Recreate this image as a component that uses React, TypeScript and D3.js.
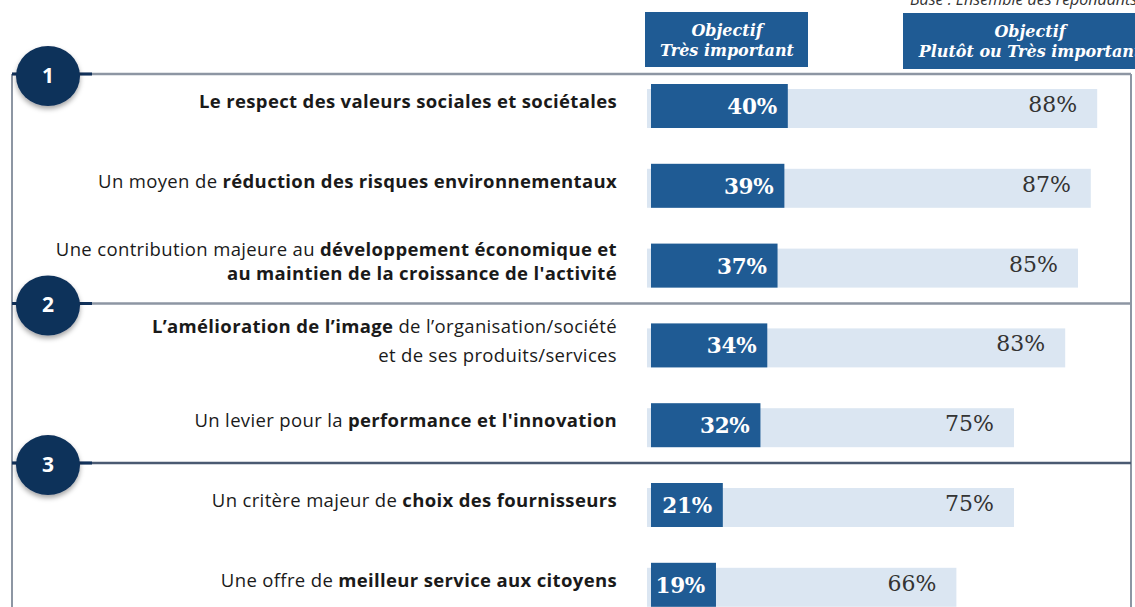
import React from "react";
import * as d3 from "d3";

type Seg = [string, boolean];

const categories: Seg[][][] = [
  [[["Le respect des valeurs sociales et sociétales", true]]],
  [[["Un moyen de ", false], ["réduction des risques environnementaux", true]]],
  [
    [["Une contribution majeure au ", false], ["développement économique et", true]],
    [["au maintien de la croissance de l'activité", true]],
  ],
  [
    [["L’amélioration de l’image", true], [" de l’organisation/société", false]],
    [["et de ses produits/services", false]],
  ],
  [[["Un levier pour la ", false], ["performance et l'innovation", true]]],
  [[["Un critère majeur de ", false], ["choix des fournisseurs", true]]],
  [[["Une offre de ", false], ["meilleur service aux citoyens", true]]],
];

const veryImportant = [40, 39, 37, 34, 32, 21, 19];
const ratherOrVery = [88, 87, 85, 83, 75, 75, 66];

const sectionStartRows = [0, 3, 5];
const sectionNumbers = ["1", "2", "3"];

const headerVery = ["Objectif", "Très important"];
const headerRather = ["Objectif", "Plutôt ou Très important"];
const baseNote = "Base : Ensemble des répondants";

const W = 1135;
const H = 607;
const DARK = "#1f5b94";
const LIGHT = "#dbe6f2";
const NAVY = "#11315a";
const LINE = "#8d96a3";

export default function App() {
  const rows = d3.range(categories.length);
  const y = d3
    .scaleBand<number>()
    .domain(rows)
    .range([84, 84 + 79.8 * categories.length])
    .paddingInner(0);
  const xDark = d3.scaleLinear().domain([0, 100]).range([651, 651 + 342]);
  const xLight = d3.scaleLinear().domain([0, 100]).range([534, 1174]);
  const lightX0 = 647;
  const darkH = 44;
  const lightOff = 5;
  const lightH = 39;

  const sectionY = sectionStartRows.map((r) =>
    r === 0 ? (y(0) as number) - 10 : ((y(r) as number) + (y(r - 1) as number) + darkH) / 2 - 2
  );

  const labelFont = "'Open Sans', 'Noto Sans', sans-serif";
  const serif = "'DejaVu Serif', 'Liberation Serif', serif";

  return (
    <svg
      width={W}
      height={H}
      viewBox={`0 0 ${W} ${H}`}
      style={{ position: "absolute", left: 0, top: 0, background: "#fff" }}
    >
      <defs>
        <filter id="shadow" x="-30%" y="-30%" width="160%" height="170%">
          <feDropShadow dx="0" dy="3" stdDeviation="2.5" floodColor="#000" floodOpacity="0.35" />
        </filter>
      </defs>

      {/* base note (cut off at top, as in the source) */}
      <text
        x={910}
        y={5}
        fontFamily={labelFont}
        fontStyle="italic"
        fontSize={16}
        fill="#333"
      >
        {baseNote}
      </text>

      {/* headers */}
      <g>
        <rect x={645} y={12} width={163} height={55} fill={DARK} />
        {headerVery.map((t, i) => (
          <text
            key={i}
            x={727}
            y={31 + i * 20}
            textAnchor="middle"
            dominantBaseline="middle"
            fill="#fff"
            fontFamily={serif}
            fontWeight="bold"
            fontStyle="italic"
            fontSize={16}
          >
            {t}
          </text>
        ))}
        <rect x={903} y={13} width={240} height={56} fill={DARK} />
        {headerRather.map((t, i) => (
          <text
            key={i}
            x={1030}
            y={32 + i * 20}
            textAnchor="middle"
            dominantBaseline="middle"
            fill="#fff"
            fontFamily={serif}
            fontWeight="bold"
            fontStyle="italic"
            fontSize={16}
          >
            {t}
          </text>
        ))}
      </g>

      {/* frame */}
      <line x1={12} x2={12} y1={sectionY[0]} y2={H} stroke={LINE} strokeWidth={2} />
      <line x1={1131} x2={1131} y1={sectionY[0]} y2={H} stroke={LINE} strokeWidth={2} />
      {sectionY.map((sy, i) => (
        <g key={i}>
          <line x1={12} x2={1131} y1={sy} y2={sy} stroke={i === 2 ? "#4a5a72" : LINE} strokeWidth={2.5} />
          <line x1={12} x2={92} y1={sy} y2={sy} stroke={NAVY} strokeWidth={3} />
          <ellipse
            cx={48}
            cy={sy + 2}
            rx={32}
            ry={30}
            fill={NAVY}
            filter="url(#shadow)"
          />
          <text
            x={48}
            y={sy + 3}
            textAnchor="middle"
            dominantBaseline="middle"
            fill="#fff"
            fontFamily={labelFont}
            fontWeight="bold"
            fontSize={21}
          >
            {sectionNumbers[i]}
          </text>
        </g>
      ))}

      {/* bars */}
      {rows.map((i) => {
        const top = y(i) as number;
        const cy = top + darkH / 2;
        const lines = categories[i];
        const lineGap = i === 3 ? 29 : 24;
        return (
          <g key={i}>
            <rect
              x={lightX0}
              y={top + lightOff}
              width={xLight(ratherOrVery[i]) - lightX0}
              height={lightH}
              fill={LIGHT}
            />
            <rect
              x={xDark(0)}
              y={top}
              width={xDark(veryImportant[i]) - xDark(0)}
              height={darkH}
              fill={DARK}
            />
            <text
              x={xDark(veryImportant[i]) - 11}
              y={cy + 2}
              textAnchor="end"
              dominantBaseline="middle"
              fill="#fff"
              fontFamily={serif}
              fontWeight="bold"
              fontSize={21.5}
              letterSpacing={-0.3}
            >
              {veryImportant[i]}%
            </text>
            <text
              x={xLight(ratherOrVery[i]) - 20}
              y={cy}
              textAnchor="end"
              dominantBaseline="middle"
              fill="#333"
              fontFamily={serif}
              fontSize={22}
            >
              {ratherOrVery[i]}%
            </text>
            {lines.map((segs, li) => (
              <text
                key={li}
                x={617}
                y={cy - 3 + (li - (lines.length - 1) / 2) * lineGap}
                textAnchor="end"
                dominantBaseline="middle"
                fill="#1a1a1a"
                fontFamily={labelFont}
                fontSize={18.5}
                letterSpacing={0.35}
              >
                {segs.map((s, si) => (
                  <tspan key={si} fontWeight={s[1] ? 700 : 400}>
                    {s[0]}
                  </tspan>
                ))}
              </text>
            ))}
          </g>
        );
      })}
    </svg>
  );
}
